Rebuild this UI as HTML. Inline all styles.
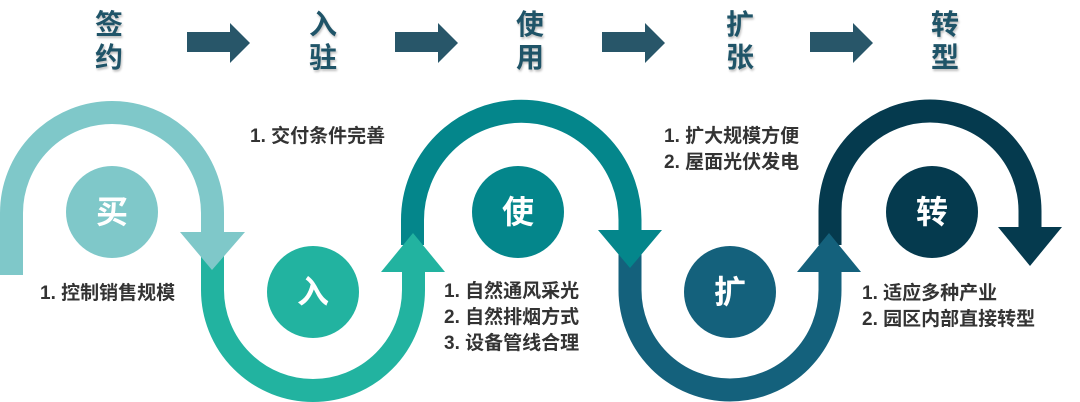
<!DOCTYPE html>
<html><head><meta charset="utf-8"><style>
html,body{margin:0;padding:0;background:#fff;}
body{width:1080px;height:402px;overflow:hidden;position:relative;font-family:"Liberation Sans","Noto Sans CJK SC",sans-serif;}
.h{position:absolute;width:40px;text-align:center;font-size:28px;font-weight:bold;color:#1f5468;line-height:33px;text-shadow:1px 2px 2px rgba(0,0,0,0.25);}
.t{position:absolute;font-size:19px;font-weight:bold;color:#333;line-height:26px;white-space:nowrap;}
svg{position:absolute;left:0;top:0;}
</style></head><body>
<svg width="1080" height="402" viewBox="0 0 1080 402">
<g fill="none" stroke-width="23">
<path d="M11.5 275 L11.5 213 A100.5 100.5 0 0 1 212.5 213 L212.5 240" stroke="#7fc8c9"/>
<path d="M212.5 255 L212.5 290 A100.5 100.5 0 0 0 413.5 290 L413.5 268" stroke="#22b3a0"/>
<path d="M412.5 245 L412.5 220 A108.75 108.75 0 0 1 630 220 L630 235" stroke="#04868b"/>
<path d="M630 250 L630 290 A100 100 0 0 0 830 290 L830 268" stroke="#14617c"/>
<path d="M830 245 L830 211 A100 100 0 0 1 1030 211 L1030 232" stroke="#053a4e"/>
</g>
<polygon points="180,232 245,232 212,270" fill="#7fc8c9"/>
<polygon points="381,272 445,272 413,233" fill="#22b3a0"/>
<polygon points="598,230 662,230 630,268" fill="#04868b"/>
<polygon points="797,272 861,272 829,233" fill="#14617c"/>
<polygon points="998,227 1062,227 1030,266" fill="#053a4e"/>
<circle cx="112" cy="212" r="46" fill="#7fc8c9"/>
<circle cx="313" cy="292" r="46" fill="#22b3a0"/>
<circle cx="518" cy="212" r="46" fill="#04868b"/>
<circle cx="730" cy="292" r="46" fill="#14617c"/>
<circle cx="932" cy="212" r="46" fill="#053a4e"/>
<g font-family="Liberation Sans, Noto Sans CJK SC, sans-serif" font-weight="bold" font-size="32" fill="#fff" text-anchor="middle">
<text x="112" y="223">买</text><text x="313" y="303">入</text><text x="518" y="223">使</text><text x="730" y="303">扩</text><text x="932" y="223">转</text>
</g>
<g fill="#285669">
<polygon points="187,32 230,32 230,23 250,43 230,63 230,52 187,52"/>
<polygon points="395,32 438,32 438,23 458,43 438,63 438,52 395,52"/>
<polygon points="602,32 645,32 645,23 665,43 645,63 645,52 602,52"/>
<polygon points="810,32 853,32 853,23 873,43 853,63 853,52 810,52"/>
</g>
</svg>
<div class="h" style="left:89px;top:8px">签<br>约</div>
<div class="h" style="left:303px;top:8px">入<br>驻</div>
<div class="h" style="left:510px;top:8px">使<br>用</div>
<div class="h" style="left:720px;top:8px">扩<br>张</div>
<div class="h" style="left:925px;top:8px">转<br>型</div>
<div class="t" style="left:40px;top:281px">1. 控制销售规模</div>
<div class="t" style="left:250px;top:124px">1. 交付条件完善</div>
<div class="t" style="left:444px;top:279px">1. 自然通风采光<br>2. 自然排烟方式<br>3. 设备管线合理</div>
<div class="t" style="left:664px;top:124px">1. 扩大规模方便<br>2. 屋面光伏发电</div>
<div class="t" style="left:862px;top:281px">1. 适应多种产业<br>2. 园区内部直接转型</div>
</body></html>
